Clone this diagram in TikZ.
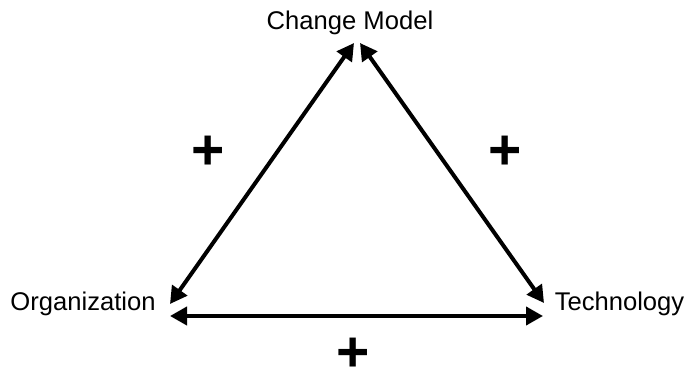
\documentclass[tikz,border=0pt]{standalone}
\usepackage{fontspec}
\setmainfont{Liberation Sans}
\usetikzlibrary{arrows.meta}
\tikzset{
  corner/.style={anchor=base, inner sep=0pt, font=\fontsize{12.8}{15}\selectfont},
  plus/.style={inner sep=0pt, font=\bfseries\fontsize{28.5}{30}\selectfont},
  link/.style={line width=2pt, {Triangle[length=8.5pt,width=9pt]}-{Triangle[length=8.5pt,width=9pt]}}
}
\begin{document}
\begin{tikzpicture}[x=0.5pt,y=-0.5pt]
    \useasboundingbox (0,0) rectangle (690,373);
    \node[corner] (M) at (350,30) {Change Model};
    \node[corner] (O) at (83,311) {Organization};
    \node[corner] (T) at (619.5,311) {Technology};
    \coordinate (ML) at (354,43);
    \coordinate (MR) at (360,43);
    \coordinate (OU) at (170,304);
    \coordinate (OD) at (170,316);
    \coordinate (TU) at (544,303);
    \coordinate (TD) at (543,316);
    \draw[link] (OU) to (ML);
    \draw[link] (MR) to (TU);
    \draw[link] (OD) to (TD);
    \node[plus] (P1) at (208.5,153) {+};
    \node[plus] (P2) at (505,153) {+};
    \node[plus] (P3) at (353,355) {+};
\end{tikzpicture}
\end{document}
